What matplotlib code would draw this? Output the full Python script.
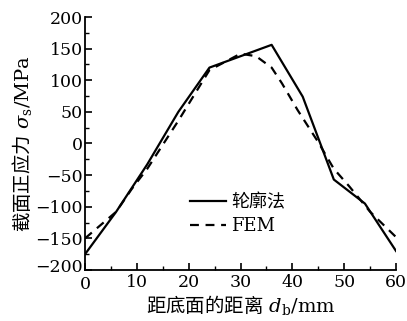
import matplotlib.pyplot as plt
import matplotlib.transforms as mtransforms
from matplotlib.ticker import MultipleLocator

plt.rcParams['font.family'] = ['DejaVu Serif', 'Noto Sans CJK SC']
plt.rcParams['mathtext.fontset'] = 'custom'
plt.rcParams['mathtext.rm'] = 'Noto Sans CJK SC'
plt.rcParams['mathtext.it'] = 'DejaVu Serif:italic'
plt.rcParams['mathtext.sf'] = 'DejaVu Serif'
plt.rcParams['axes.unicode_minus'] = True

# contour method (solid)
d_contour = [0, 6, 12, 18, 24, 36, 42, 48, 54, 60]
s_contour = [-175, -108, -33, 50, 120, 156, 74, -57, -95, -170]

# FEM (dashed)
d_fem = [0, 6, 9, 12, 18, 24, 30, 33, 36, 38, 41, 45, 48, 51, 55, 60]
s_fem = [-150, -108, -72, -40, 36, 116, 142, 138, 120, 95, 53, 2, -40, -68, -108, -148]

fig = plt.figure(figsize=(4.07, 3.21), dpi=100)
ax = fig.add_axes([0.209, 0.159, 0.764, 0.788])

ax.plot(d_contour, s_contour, 'k-', lw=1.6, label='轮廓法')
ax.plot(d_fem, s_fem, 'k--', lw=1.6, dashes=(4, 3), label='FEM')

ax.set_xlim(0, 60)
ax.set_ylim(-200, 200)
ax.xaxis.set_major_locator(MultipleLocator(10))
ax.xaxis.set_minor_locator(MultipleLocator(5))
ax.yaxis.set_major_locator(MultipleLocator(50))
ax.yaxis.set_minor_locator(MultipleLocator(25))
ax.tick_params(which='major', direction='in', length=5, width=1.2, labelsize=12.5)
ax.tick_params(axis='y', which='major', pad=1.5)
ax.tick_params(axis='x', which='major', pad=3)
ax.tick_params(which='minor', direction='in', length=3, width=1.0)
ax.spines['top'].set_visible(False)
ax.spines['right'].set_visible(False)
ax.spines['left'].set_linewidth(1.3)
ax.spines['bottom'].set_linewidth(1.3)

ax.set_xlabel(r'$\mathrm{距底面的距离}\ d_{\mathsf{b}}\mathsf{/mm}$', fontsize=14, labelpad=0)
ax.set_ylabel(r'$\mathrm{截面正应力}\ \sigma_{\mathsf{s}}\mathsf{/MPa}$', fontsize=14, labelpad=1)

ax.legend(loc='center', bbox_to_anchor=(0.49, 0.22), frameon=False, fontsize=13,
          handlelength=2.0, handletextpad=0.3, labelspacing=0.35)

# nudge the corner labels apart so -200 and 0 don't collide
fig.canvas.draw()
ylocs = list(ax.yaxis.get_majorticklocs())
xlocs = list(ax.xaxis.get_majorticklocs())
lab_y = ax.yaxis.get_major_ticks()[ylocs.index(-200)].label1
lab_y.set_transform(lab_y.get_transform() + mtransforms.ScaledTranslation(0, 3 / 72, fig.dpi_scale_trans))
lab_x = ax.xaxis.get_major_ticks()[xlocs.index(0)].label1
lab_x.set_transform(lab_x.get_transform() + mtransforms.ScaledTranslation(0, -1 / 72, fig.dpi_scale_trans))

fig.savefig('out.png', dpi=100)
